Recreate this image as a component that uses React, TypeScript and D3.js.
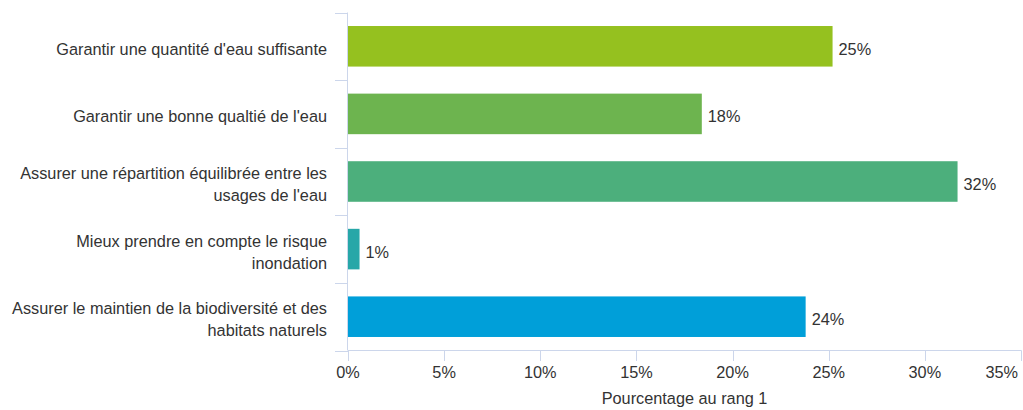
import React from "react";
import * as d3 from "d3";

const categories = [
  "Garantir une quantité d'eau suffisante",
  "Garantir une bonne qualtié de l'eau",
  "Assurer une répartition équilibrée entre les\nusages de l'eau",
  "Mieux prendre en compte le risque\ninondation",
  "Assurer le maintien de la biodiversité et des\nhabitats naturels",
];
const values = [25.2, 18.4, 31.7, 0.6, 23.8];
const valueLabels = ["25%", "18%", "32%", "1%", "24%"];
const barColors = ["#95c11f", "#6db44f", "#4caf7c", "#27a7a8", "#009fd9"];
const xTicks = [0, 5, 10, 15, 20, 25, 30, 35];
const xTickLabels = ["0%", "5%", "10%", "15%", "20%", "25%", "30%", "35%"];
const axisTitle = "Pourcentage au rang 1";

const W = 1023;
const H = 410;
const FONT = "'Liberation Sans', Arial, Helvetica, sans-serif";
const TEXT = "#333333";
const AXIS = "#ccd6eb";
const FS = 16.3;

export default function App() {
  const x = d3.scaleLinear().domain([0, 35]).range([348, 1021]);
  const y = d3
    .scaleBand<string>()
    .domain(categories)
    .range([12.5, 350.5])
    .paddingInner(0.4)
    .paddingOuter(0.2);
  const step = y.step();
  const slotTop = (c: string) => (y(c) as number) - step * 0.2;
  const center = (c: string) => (y(c) as number) + y.bandwidth() / 2;
  const lineH = 22;
  const boundaries = categories.map((c) => slotTop(c)).concat([350.5]);

  return (
    <div style={{ position: "absolute", left: 0, top: 0 }}>
      <svg width={W} height={H} style={{ display: "block", background: "#fff" }} fontFamily={FONT}>
        {boundaries.map((b, i) => (
          <line key={"cb" + i} x1={335} x2={348} y1={Math.round(b) + 0.5} y2={Math.round(b) + 0.5} stroke={AXIS} strokeWidth={1} />
        ))}
        <line x1={347.5} x2={347.5} y1={12.5} y2={350.5} stroke={AXIS} strokeWidth={1} />
        <line x1={348} x2={1021.5} y1={350.5} y2={350.5} stroke={AXIS} strokeWidth={1} />
        {xTicks.map((t, i) => (
          <g key={"xt" + i}>
            <line x1={Math.round(x(t)) + 0.5} x2={Math.round(x(t)) + 0.5} y1={350.5} y2={361} stroke={AXIS} strokeWidth={1} />
            <text
              x={i === xTicks.length - 1 ? 1018 : x(t)}
              y={378}
              textAnchor={i === xTicks.length - 1 ? "end" : "middle"}
              fontSize={FS}
              fill={TEXT}
            >
              {xTickLabels[i]}
            </text>
          </g>
        ))}
        <text x={(x(0) + x(35)) / 2} y={404} textAnchor="middle" fontSize={FS} fill={TEXT}>
          {axisTitle}
        </text>
        {categories.map((c, i) => (
          <rect
            key={"b" + i}
            x={x(0)}
            y={y(c) as number}
            width={x(values[i]) - x(0)}
            height={y.bandwidth()}
            fill={barColors[i]}
          />
        ))}
        {categories.map((c, i) => (
          <text key={"v" + i} x={x(values[i]) + 6} y={center(c) + 8.5} fontSize={FS} fill={TEXT}>
            {valueLabels[i]}
          </text>
        ))}
        {categories.map((c, i) => {
          const lines = c.split("\n");
          const base = center(c) + 8.5 - ((lines.length - 1) * lineH) / 2;
          return (
            <text key={"c" + i} x={327} textAnchor="end" fontSize={FS} fill={TEXT}>
              {lines.map((l, j) => (
                <tspan key={j} x={327} y={base + j * lineH}>
                  {l}
                </tspan>
              ))}
            </text>
          );
        })}
      </svg>
    </div>
  );
}
